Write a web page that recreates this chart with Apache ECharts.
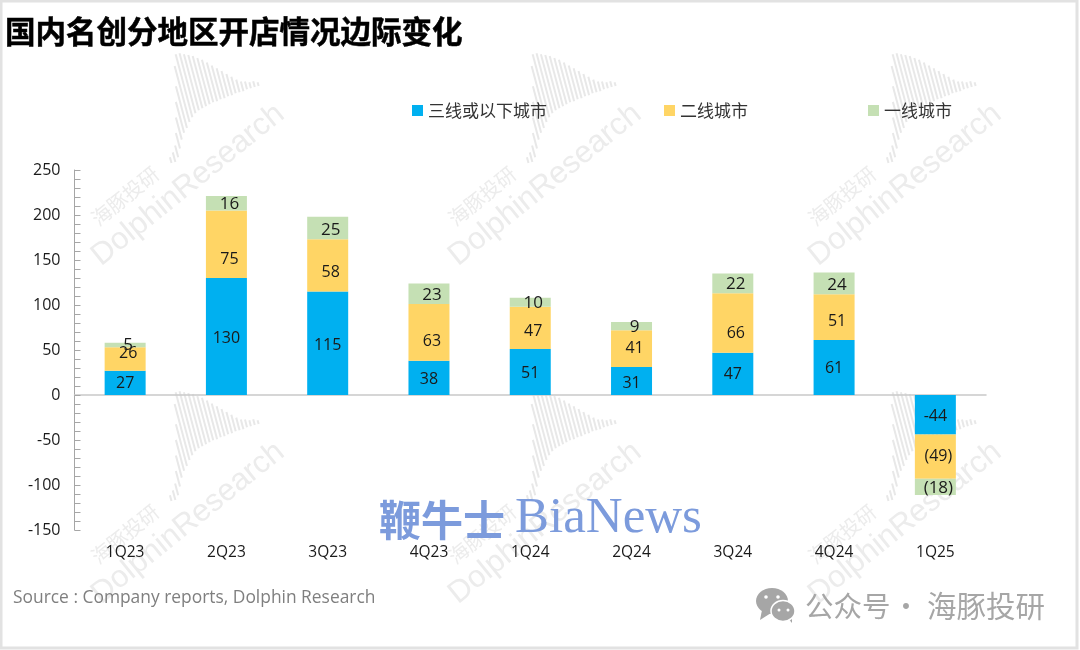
<!DOCTYPE html>
<html lang="zh">
<head>
<meta charset="utf-8" />
<title>国内名创分地区开店情况边际变化</title>
<script src="https://cdn.jsdelivr.net/npm/echarts@6/dist/echarts.min.js"></script>
<style>
  html, body { margin: 0; padding: 0; background: #fff; }
  #chart { width: 1080px; height: 650px; }
</style>
</head>
<body>
<div id="chart"></div>
<script>
var categories = ['1Q23', '2Q23', '3Q23', '4Q23', '1Q24', '2Q24', '3Q24', '4Q24', '1Q25'];
var tier3 = [27, 130, 115, 38, 51, 31, 47, 61, -44];
var tier2 = [26, 75, 58, 63, 47, 41, 66, 51, -49];
var tier1 = [5, 16, 25, 23, 10, 9, 22, 24, -18];
var seriesNames = ['三线或以下城市', '二线城市', '一线城市'];
var seriesColors = ['#00b0f0', '#ffd565', '#c5e0b4'];
var legendLefts = [407, 659, 863];

// labels in the source sit off the segment centre, nudged by hand
var labelDx = [0, 3, 3];
var labelDy = [
  [1, 2, 2, 2, 1, 2, 1, 1, 2],
  [-6, 15, 7, 9, 3, 0, 10, 4, 0],
  [0, 1, 2, 1, 1, 1, 1, 2, 1]
];

// watermark wave, only decoration
var waveTop = [8, 12, 18, 30, 45, 60, 75, 95, 106, 106, 104, 102, 100, 97, 94, 90, 86, 82, 78, 74, 70, 66, 63, 62, 60, 60, 58];
var waveBottom = [2, 2, 6, 14, 22, 28, 32, 37, 41, 44, 46, 47, 48, 49, 50, 50, 51, 51, 52, 52, 53, 53, 53, 54, 54, 54, 54];
var markOffsets = [[0, 0], [357, 0], [717, 0], [0, 338], [357, 338], [717, 338]];

var cjk = '"Noto Sans CJK SC", sans-serif';
var latin = '"Open Sans", "Noto Sans CJK SC", sans-serif';

function watermark(dx, dy) {
  var lines = waveTop.map(function (top, i) {
    return {
      type: 'line', z: -10, silent: true,
      shape: { x1: i * 4, y1: -waveBottom[i], x2: i * 4, y2: -top },
      style: { stroke: '#e8e8e8', lineWidth: 2 }
    };
  });
  return [
    { type: 'group', x: 172 + dx, y: 165 + dy, rotation: 0.26, silent: true, children: lines },
    {
      type: 'text', z: -10, silent: true, x: 188 + dx, y: 185 + dy, rotation: 0.68,
      style: { text: 'DolphinResearch', font: '31px "Liberation Sans", sans-serif', fill: '#ececec', align: 'center', verticalAlign: 'middle' }
    },
    {
      type: 'text', z: -10, silent: true, x: 125 + dx, y: 196 + dy, rotation: 0.68,
      style: { text: '海豚投研', font: '20px ' + cjk, fill: '#ececec', align: 'center', verticalAlign: 'middle' }
    }
  ];
}

var elements = [];
markOffsets.forEach(function (o) { elements = elements.concat(watermark(o[0], o[1])); });

elements.push(
  { type: 'rect', z: 50, silent: true, shape: { x: 1, y: 1, width: 1076, height: 647 }, style: { fill: 'none', stroke: '#e2e2e2', lineWidth: 3 } },
  { type: 'text', z: 50, x: 5, y: 31, style: { text: '国内名创分地区开店情况边际变化', font: 'bold 30.5px ' + cjk, fill: '#000', stroke: '#000', lineWidth: 0.5, verticalAlign: 'middle' } },
  { type: 'text', z: 50, x: 13, y: 598, style: { text: 'Source : Company reports, Dolphin Research', font: '17.4px ' + latin, fill: '#7f7f7f', verticalAlign: 'middle' } },
  { type: 'text', z: 50, x: 805, y: 606, style: { text: '公众号', font: '28.5px ' + cjk, fill: '#a6a6a6', verticalAlign: 'middle' } },
  { type: 'text', z: 50, x: 892, y: 606, style: { text: '·', font: '28px ' + cjk, fill: '#a6a6a6', verticalAlign: 'middle' } },
  { type: 'text', z: 50, x: 927, y: 606, style: { text: '海豚投研', font: '29.5px ' + cjk, fill: '#a6a6a6', verticalAlign: 'middle' } },
  { type: 'polygon', z: 50, shape: { points: [[762, 610], [760, 620], [771, 613]] }, style: { fill: '#a6a6a6' } },
  { type: 'polygon', z: 50, shape: { points: [[786, 616], [792, 623], [792, 614]] }, style: { fill: '#a6a6a6' } },
  { type: 'ellipse', z: 50, shape: { cx: 772, cy: 601, rx: 16, ry: 13 }, style: { fill: '#a6a6a6' } },
  { type: 'ellipse', z: 51, shape: { cx: 783, cy: 611, rx: 12, ry: 10.5 }, style: { fill: '#a6a6a6', stroke: '#fff', lineWidth: 1.5 } },
  { type: 'circle', z: 52, shape: { cx: 766, cy: 597, r: 1.8 }, style: { fill: '#fff' } },
  { type: 'circle', z: 52, shape: { cx: 778, cy: 597, r: 1.8 }, style: { fill: '#fff' } },
  { type: 'circle', z: 52, shape: { cx: 779, cy: 610, r: 1.5 }, style: { fill: '#fff' } },
  { type: 'circle', z: 52, shape: { cx: 788, cy: 610, r: 1.5 }, style: { fill: '#fff' } },
  { type: 'text', z: 60, x: 379, y: 520, style: { text: '鞭牛士', font: 'bold 42px ' + cjk, fill: '#7c9bdc', verticalAlign: 'middle' } },
  { type: 'text', z: 60, x: 515, y: 519, style: { text: 'BiaNews', font: '51px "Liberation Serif", serif', fill: '#7c9bdc', verticalAlign: 'middle' } }
);

function barLabel(p) {
  if (p.value < 0 && p.seriesIndex > 0) return '(' + (-p.value) + ')';
  return String(p.value);
}

var chart = echarts.init(document.getElementById('chart'));
chart.setOption({
  animation: false,
  backgroundColor: '#fff',
  graphic: { elements: elements },
  legend: seriesNames.map(function (name, i) {
    return {
      data: [name], left: legendLefts[i], top: 97, selectedMode: false,
      icon: 'rect', itemWidth: 11, itemHeight: 11, itemGap: 5,
      textStyle: { fontFamily: cjk, fontSize: 17, color: '#333' }
    };
  }),
  grid: { left: 74.5, right: 94, top: 170, bottom: 120 },
  xAxis: [
    {
      type: 'category', data: categories, position: 'bottom',
      axisLine: { show: false, onZero: false }, axisTick: { show: false },
      axisLabel: { margin: 15, fontFamily: latin, fontSize: 15.5, color: '#1a1a1a' }
    },
    {
      type: 'category', data: categories, position: 'top',
      axisLine: { show: true, onZero: true, lineStyle: { color: '#c9c9c9', width: 1.5 } },
      axisTick: { show: false }, axisLabel: { show: false }
    }
  ],
  yAxis: {
    type: 'value', min: -150, max: 250, interval: 50,
    axisLine: { show: true, lineStyle: { color: '#a6a6a6' } },
    axisTick: { show: true, inside: true, length: 6, lineStyle: { color: '#a6a6a6' } },
    minorTick: { show: true, splitNumber: 5, length: 6, lineStyle: { color: '#a6a6a6' } },
    splitLine: { show: false }, minorSplitLine: { show: false },
    axisLabel: { margin: 14, fontFamily: latin, fontSize: 16, color: '#1a1a1a' }
  },
  series: [tier3, tier2, tier1].map(function (values, i) {
    return {
      name: seriesNames[i], type: 'bar', stack: 'stores', barWidth: 41, z: 5,
      data: values.map(function (v, j) {
        return { value: v, label: { offset: [labelDx[i], labelDy[i][j]] } };
      }),
      itemStyle: { color: seriesColors[i] },
      label: {
        show: true, position: 'inside', formatter: barLabel,
        fontFamily: latin, fontSize: i === 2 ? 17 : 16, color: '#1a1a1a'
      }
    };
  })
});
</script>
</body>
</html>
